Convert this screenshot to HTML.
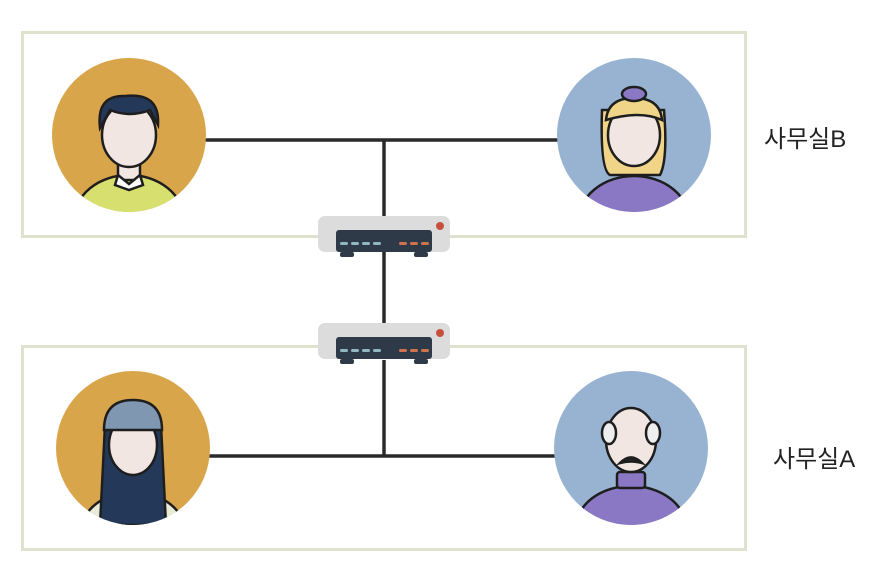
<!DOCTYPE html>
<html><head><meta charset="utf-8"><style>
html,body{margin:0;padding:0;background:#fff;}
svg{display:block}
text{font-family:"Liberation Sans","Noto Sans CJK KR",sans-serif;font-size:24px;fill:#222}
</style></head><body>
<svg width="894" height="586" viewBox="0 0 894 586" xmlns="http://www.w3.org/2000/svg">
<defs>
<g id="router">
  <rect x="0" y="0" width="132" height="36" rx="7" fill="#dcdcdc"/>
  <rect x="18" y="14" width="96" height="22" rx="3" fill="#2e3a48"/>
  <rect x="22" y="36" width="14" height="5" rx="2" fill="#2e3a48"/>
  <rect x="96" y="36" width="14" height="5" rx="2" fill="#2e3a48"/>
  <circle cx="122" cy="10" r="4" fill="#c6503e"/>
  <g fill="#8fb8c0"><rect x="22" y="26" width="8" height="3" rx="1.5"/><rect x="33" y="26" width="8" height="3" rx="1.5"/><rect x="44" y="26" width="8" height="3" rx="1.5"/><rect x="55" y="26" width="8" height="3" rx="1.5"/></g>
  <g fill="#d0724e"><rect x="81" y="26" width="8" height="3" rx="1.5"/><rect x="92" y="26" width="8" height="3" rx="1.5"/><rect x="103" y="26" width="8" height="3" rx="1.5"/></g>
</g>
</defs>
<rect x="22.5" y="32.5" width="723" height="204" fill="none" stroke="#e0e1cf" stroke-width="3"/>
<rect x="22.5" y="346.5" width="723" height="203" fill="none" stroke="#e0e1cf" stroke-width="3"/>
<g stroke="#2a2a2a" stroke-width="3.5" fill="none">
<line x1="200" y1="140" x2="565" y2="140"/>
<line x1="384" y1="140" x2="384" y2="330"/>
<line x1="200" y1="456" x2="560" y2="456"/>
<line x1="384" y1="360" x2="384" y2="456"/>
</g>
<use href="#router" x="318" y="216"/>
<use href="#router" x="318" y="323"/>

<g>
<clipPath id="c1"><circle cx="129" cy="135" r="77"/></clipPath>
<circle cx="129" cy="135" r="77" fill="#d9a54a"/>
<g clip-path="url(#c1)" stroke="#1e1e1e" stroke-width="2.5">
<ellipse cx="129" cy="220" rx="55" ry="45" fill="#d7df6f"/>
<rect x="118" y="160" width="22" height="20" fill="#f1e6e2"/>
<path d="M118 175 L129 184 L140 175 L143 185 L129 190 L115 185Z" fill="#fff"/>
<ellipse cx="129" cy="135" rx="27" ry="32" fill="#f1e6e2"/>
<path d="M100 128 Q96 95 125 96 Q160 92 158 125 L150 110 Q130 118 110 110 Z" fill="#24395a"/>
</g>
</g>
<g>
<clipPath id="c2"><circle cx="634" cy="135" r="77"/></clipPath>
<circle cx="634" cy="135" r="77" fill="#98b3d2"/>
<g clip-path="url(#c2)" stroke="#1e1e1e" stroke-width="2.5">
<ellipse cx="634" cy="222" rx="56" ry="46" fill="#8b78c4"/>
<path d="M602 110 Q600 170 610 175 L660 175 Q668 160 664 110 Z" fill="#f0d488"/>
<ellipse cx="634" cy="135" rx="26" ry="31" fill="#f1e6e2"/>
<path d="M606 120 Q608 98 634 98 Q660 98 662 120 Q640 110 606 120Z" fill="#f0d488"/>
<ellipse cx="634" cy="94" rx="12" ry="7" fill="#8b78c4"/>
</g>
</g>
<g>
<clipPath id="c3"><circle cx="133" cy="448" r="77"/></clipPath>
<circle cx="133" cy="448" r="77" fill="#d9a54a"/>
<g clip-path="url(#c3)" stroke="#1e1e1e" stroke-width="2.5">
<ellipse cx="133" cy="532" rx="52" ry="40" fill="#e7ecd9"/>
<path d="M105 425 L100 525 L166 525 L161 425 Z" fill="#24395a"/>
<ellipse cx="133" cy="445" rx="24" ry="30" fill="#f1e6e2"/>
<path d="M104 430 Q104 400 133 400 Q162 400 162 430 Z" fill="#7f97b0"/>
</g>
</g>
<g>
<clipPath id="c4"><circle cx="631" cy="448" r="77"/></clipPath>
<circle cx="631" cy="448" r="77" fill="#98b3d2"/>
<g clip-path="url(#c4)" stroke="#1e1e1e" stroke-width="2.5">
<ellipse cx="631" cy="528" rx="55" ry="42" fill="#8b78c4"/>
<rect x="617" y="472" width="28" height="16" rx="3" fill="#8b78c4"/>
<ellipse cx="631" cy="440" rx="25" ry="32" fill="#f1e6e2"/>
<ellipse cx="609" cy="433" rx="7" ry="11" fill="#eee"/>
<ellipse cx="653" cy="433" rx="7" ry="11" fill="#eee"/>
<path d="M620 463 Q631 452 642 463 Q631 460 620 463Z" fill="#222"/>
</g>
</g>
<text x="764" y="147">사무실B</text>
<text x="773" y="467">사무실A</text>
</svg>
</body></html>
